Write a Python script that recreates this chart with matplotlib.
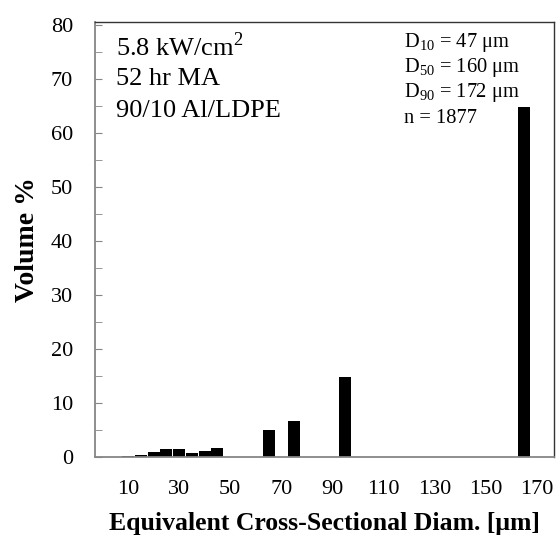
import matplotlib
matplotlib.use("Agg")
import matplotlib.pyplot as plt
from matplotlib.ticker import MultipleLocator

plt.rcParams['font.family'] = ['Liberation Serif', 'DejaVu Serif']
plt.rcParams['mathtext.fontset'] = 'custom'
plt.rcParams['mathtext.rm'] = 'Liberation Serif'

diam = [10, 15, 20, 25, 30, 35, 40, 45, 50, 55, 60, 65, 70, 75, 80, 85, 90, 95,
        100, 105, 110, 115, 120, 125, 130, 135, 140, 145, 150, 155, 160, 165, 170]
volume = [0.2, 0.4, 0.8, 1.4, 1.4, 0.7, 1.0, 1.7, 0, 0, 0, 4.9, 0, 6.7, 0, 0, 0, 14.7,
          0, 0, 0, 0, 0, 0, 0, 0, 0, 0, 0, 0, 0, 64.8, 0]
xtick_labels = [10, 30, 50, 70, 90, 110, 130, 150, 170]
left_notes = ["5.8 kW/cm$^2$", "52 hr MA", "90/10 Al/LDPE"]
right_notes = ["D$_{10}$ = 47 μm", "D$_{50}$ = 160 μm", "D$_{90}$ = 172 μm", "n = 1877"]

W, H = 558, 548
fig = plt.figure(figsize=(W / 100, H / 100), dpi=100)
ax = fig.add_axes([95 / W, (H - 456.7) / H, (554 - 95) / W, (456.7 - 22) / H])

ax.bar(diam, volume, width=4.7, color='black', edgecolor='none')

ax.set_xlim(-2.9, 176.6)
ax.set_ylim(0, 80.5)
ax.set_xticks(xtick_labels)
ax.set_xticklabels([str(v) for v in xtick_labels], fontsize=16)
ax.tick_params(axis='x', length=0, pad=17)
ax.yaxis.set_major_locator(MultipleLocator(10))
ax.yaxis.set_minor_locator(MultipleLocator(5))
ax.tick_params(axis='y', which='both', direction='in', length=5, color='#868686',
               labelsize=16, pad=15.8)
ax.tick_params(axis='y', which='minor', labelleft=False)

for s in ['left', 'bottom']:
    ax.spines[s].set_color('#868686')
    ax.spines[s].set_linewidth(1.3)
for s in ['top', 'right']:
    ax.spines[s].set_color('#333333')
    ax.spines[s].set_linewidth(1.0)

ax.set_ylabel("Volume %", fontsize=20, fontweight='bold', labelpad=8)
ax.set_xlabel("Equivalent Cross-Sectional Diam. [μm]", fontsize=18.5, fontweight='bold',
              labelpad=9)

for i, t in enumerate(left_notes):
    fig.text(116 / W, 1 - (47 + 32 * i) / H, t, fontsize=19, va='center', ha='left')
for i, t in enumerate(right_notes):
    fig.text(404 / W, 1 - (42 + 25.5 * i) / H, t, fontsize=14.8, va='center', ha='left')

fig.savefig("out.png", dpi=100)
